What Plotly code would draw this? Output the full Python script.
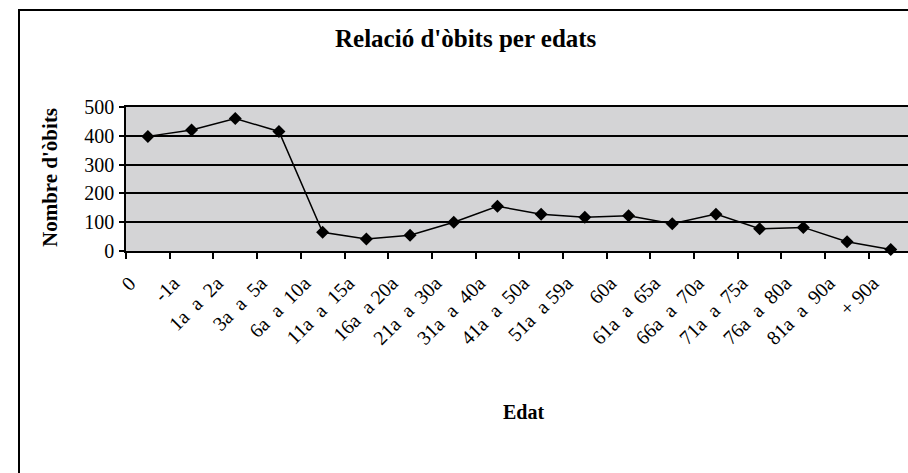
import plotly.graph_objects as go

categories = ["0", "-1a", "1a  a  2a", "3a  a  5a", "6a  a  10a", "11a  a  15a",
              "16a  a 20a", "21a  a  30a", "31a  a  40a", "41a  a  50a", "51a  a 59a",
              "60a", "61a  a  65a", "66a  a  70a", "71a  a  75a", "76a  a  80a",
              "81a  a  90a", "+ 90a"]
deaths = [398, 420, 460, 415, 65, 42, 55, 100, 155, 128, 117, 122, 95, 128, 77, 82, 32, 5]
y_ticks = [0, 100, 200, 300, 400, 500]

W, H = 908, 473
L, R, T, B = 126, 908, 107, 251  # plot area in pixels


def px(x):
    return (x - L) / (R - L)


def py(y):
    return (B - y) / (B - T)


FONT = "Liberation Serif, Times New Roman, serif"

fig = go.Figure()
fig.add_trace(go.Scatter(
    x=categories, y=deaths, mode="lines+markers",
    line=dict(color="black", width=1.5),
    marker=dict(symbol="diamond", size=10, color="black"),
    showlegend=False, cliponaxis=False,
))

fig.update_layout(
    width=W, height=H,
    margin=dict(l=L, r=W - R, t=T, b=H - B),
    paper_bgcolor="white",
    plot_bgcolor="#d4d4d6",
    font=dict(family=FONT, size=16, color="black"),
    xaxis=dict(
        type="category", range=[-0.5, 17.395],
        tickson="boundaries", ticks="outside", ticklen=6, tickcolor="black", tickwidth=1.5,
        showline=True, linecolor="black", linewidth=1.5, mirror=True,
        showgrid=False, tickangle=-45,
        tickfont=dict(family=FONT, size=20, color="black"),
        ticklabelshift=-18, ticklabelstandoff=11,
    ),
    yaxis=dict(
        range=[0, 500], tickvals=y_ticks, ticks="outside", ticklen=5,
        tickcolor="black", tickwidth=1.5,
        showline=True, linecolor="black", linewidth=1.5,
        showgrid=True, gridcolor="black", gridwidth=1.5, zeroline=False,
        tickfont=dict(family=FONT, size=20, color="black"),
        ticklabelstandoff=1,
    ),
    shapes=[dict(type="rect", xref="paper", yref="paper",
                 x0=px(19), x1=px(960), y0=py(10), y1=py(600),
                 line=dict(color="black", width=2), fillcolor="rgba(0,0,0,0)",
                 layer="above")],
    annotations=[
        dict(text="<b>Relació d'òbits per edats</b>", xref="paper", yref="paper",
             x=px(466), y=py(39), showarrow=False, xanchor="center", yanchor="middle",
             font=dict(family=FONT, size=25, color="black")),
        dict(text="<b>Nombre d'òbits</b>", xref="paper", yref="paper",
             x=px(50), y=py(178), showarrow=False, xanchor="center", yanchor="middle",
             textangle=-90, font=dict(family=FONT, size=21, color="black")),
        dict(text="<b>Edat</b>", xref="paper", yref="paper",
             x=px(523), y=py(412), showarrow=False, xanchor="center", yanchor="middle",
             font=dict(family=FONT, size=20, color="black")),
    ],
)

fig.write_html(
    "out.html",
    config={"displayModeBar": False},
    post_script="document.body.style.margin='0';document.body.style.overflow='hidden';",
)
